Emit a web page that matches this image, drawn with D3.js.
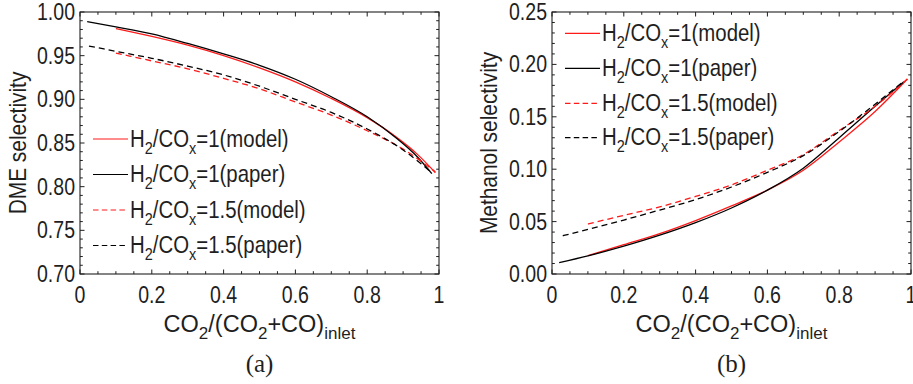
<!DOCTYPE html>
<html>
<head>
<meta charset="utf-8">
<script src="https://cdn.jsdelivr.net/npm/d3@7"></script>
<style>
  html, body { margin: 0; padding: 0; background: #fff; }
  svg { display: block; }
</style>
</head>
<body>
<svg id="chart" width="913" height="384"></svg>
<script>
// ---- data ----
const xTicks = [0, 0.2, 0.4, 0.6, 0.8, 1];
const dmeTicks = [0.70, 0.75, 0.80, 0.85, 0.90, 0.95, 1.00];
const meohTicks = [0.00, 0.05, 0.10, 0.15, 0.20, 0.25];

// DME selectivity vs CO2/(CO2+CO) at inlet
const dmeX_h1_model  = [0.10, 0.20, 0.30, 0.40, 0.50, 0.60, 0.70, 0.80, 0.88, 0.94, 0.99];
const dmeY_h1_model  = [0.981, 0.972, 0.962, 0.950, 0.936, 0.920, 0.901, 0.879, 0.857, 0.837, 0.816];
const dmeX_h1_paper  = [0.02, 0.10, 0.20, 0.30, 0.40, 0.50, 0.60, 0.70, 0.80, 0.88, 0.94, 0.98];
const dmeY_h1_paper  = [0.989, 0.983, 0.975, 0.964, 0.952, 0.939, 0.923, 0.903, 0.880, 0.856, 0.834, 0.815];
const dmeX_h15_model = [0.10, 0.20, 0.30, 0.40, 0.50, 0.60, 0.70, 0.80, 0.90, 0.99];
const dmeY_h15_model = [0.953, 0.944, 0.935, 0.924, 0.912, 0.897, 0.882, 0.864, 0.843, 0.817];
const dmeX_h15_paper = [0.025, 0.10, 0.20, 0.30, 0.40, 0.50, 0.60, 0.70, 0.80, 0.90, 0.98];
const dmeY_h15_paper = [0.961, 0.955, 0.947, 0.938, 0.928, 0.915, 0.900, 0.885, 0.866, 0.842, 0.816];

// Methanol selectivity vs CO2/(CO2+CO) at inlet
const meX_h1_model  = [0.10, 0.20, 0.30, 0.40, 0.50, 0.60, 0.70, 0.80, 0.90, 0.99];
const meY_h1_model  = [0.0175, 0.028, 0.0385, 0.051, 0.065, 0.080, 0.099, 0.126, 0.155, 0.186];
const meX_h1_paper  = [0.02, 0.10, 0.20, 0.30, 0.40, 0.50, 0.60, 0.70, 0.80, 0.90, 0.98];
const meY_h1_paper  = [0.0108, 0.0172, 0.0265, 0.037, 0.049, 0.063, 0.080, 0.101, 0.130, 0.160, 0.1835];
const meX_h15_model = [0.10, 0.20, 0.30, 0.40, 0.50, 0.60, 0.70, 0.80, 0.90, 0.99];
const meY_h15_model = [0.0477, 0.056, 0.064, 0.074, 0.085, 0.099, 0.114, 0.137, 0.160, 0.186];
const meX_h15_paper = [0.03, 0.10, 0.20, 0.30, 0.40, 0.50, 0.60, 0.70, 0.80, 0.90, 0.98];
const meY_h15_paper = [0.0365, 0.0425, 0.0515, 0.061, 0.071, 0.083, 0.097, 0.113, 0.136, 0.162, 0.184];

const seriesNames = [
  [{t: "H"}, {t: "2", sub: true}, {t: "/CO"}, {t: "x", sub: true}, {t: "=1(model)"}],
  [{t: "H"}, {t: "2", sub: true}, {t: "/CO"}, {t: "x", sub: true}, {t: "=1(paper)"}],
  [{t: "H"}, {t: "2", sub: true}, {t: "/CO"}, {t: "x", sub: true}, {t: "=1.5(model)"}],
  [{t: "H"}, {t: "2", sub: true}, {t: "/CO"}, {t: "x", sub: true}, {t: "=1.5(paper)"}]
];
const seriesStyles = [
  {color: "#ff1a1a", dash: null},
  {color: "#000000", dash: null},
  {color: "#ff1a1a", dash: "6,4"},
  {color: "#000000", dash: "6,4"}
];
const xLabelParts = [{t: "CO"}, {t: "2", sub: true}, {t: "/(CO"}, {t: "2", sub: true}, {t: "+CO)"}, {t: "inlet", sub: true}];

// ---- drawing ----
const svg = d3.select("#chart");
const FONT = "'Liberation Sans', Arial, sans-serif";
const TXT = "#1f1f1f";

function richText(parent, x, y, parts, size, subSize, subDy, sx, anchor) {
  const g = parent.append("g").attr("transform", `translate(${x},${y}) scale(${sx},1)`);
  const t = g.append("text")
    .attr("font-family", FONT).attr("font-size", size).attr("fill", TXT)
    .attr("text-anchor", anchor || "start");
  let shifted = false;
  parts.forEach(p => {
    const ts = t.append("tspan").text(p.t);
    if (p.sub) {
      ts.attr("font-size", subSize);
      if (!shifted) { ts.attr("dy", subDy); shifted = true; }
    } else {
      if (shifted) { ts.attr("dy", -subDy); shifted = false; }
    }
  });
  return g;
}

function drawPanel(opts) {
  const x = d3.scaleLinear().domain([0, 1]).range([opts.x0, opts.x1]);
  const y = d3.scaleLinear().domain(opts.yDomain).range([274, 12]);
  const g = svg.append("g");

  // minor + major ticks on all four sides, pointing inward
  const xMinor = d3.range(0, 1.0001, 0.05);
  const yMinor = d3.range(opts.yDomain[0], opts.yDomain[1] + 1e-6, 0.01);
  const isMajorX = v => Math.abs(v * 5 - Math.round(v * 5)) < 1e-6;
  const isMajorY = v => Math.abs(v * 20 - Math.round(v * 20)) < 1e-6;
  xMinor.forEach(v => {
    const L = isMajorX(v) ? 4.5 : 2.8;
    g.append("line").attr("x1", x(v)).attr("x2", x(v)).attr("y1", 274).attr("y2", 274 - L)
      .attr("stroke", TXT).attr("stroke-width", 1);
    g.append("line").attr("x1", x(v)).attr("x2", x(v)).attr("y1", 12).attr("y2", 12 + L)
      .attr("stroke", TXT).attr("stroke-width", 1);
  });
  yMinor.forEach(v => {
    const L = isMajorY(v) ? 4.5 : 2.8;
    g.append("line").attr("x1", opts.x0).attr("x2", opts.x0 + L).attr("y1", y(v)).attr("y2", y(v))
      .attr("stroke", TXT).attr("stroke-width", 1);
    g.append("line").attr("x1", opts.x1).attr("x2", opts.x1 - L).attr("y1", y(v)).attr("y2", y(v))
      .attr("stroke", TXT).attr("stroke-width", 1);
  });

  // frame
  g.append("rect").attr("x", opts.x0).attr("y", 12)
    .attr("width", opts.x1 - opts.x0).attr("height", 262)
    .attr("fill", "none").attr("stroke", TXT).attr("stroke-width", 1.1);

  // tick labels
  xTicks.forEach(v => {
    const lg = g.append("g").attr("transform", `translate(${x(v)},303) scale(0.85,1)`);
    lg.append("text").attr("text-anchor", "middle").attr("font-family", FONT)
      .attr("font-size", 23).attr("fill", TXT).text(d3.format("~g")(v));
  });
  opts.yTicks.forEach(v => {
    const lg = g.append("g").attr("transform", `translate(${opts.x0 - 5},${y(v) + 8}) scale(0.85,1)`);
    lg.append("text").attr("text-anchor", "end").attr("font-family", FONT)
      .attr("font-size", 23).attr("fill", TXT).text(d3.format(".2f")(v));
  });

  // axis titles
  const cx = (opts.x0 + opts.x1) / 2;
  richText(g, cx, 332, xLabelParts, 23.5, 17, 7, 1, "middle");
  const yl = g.append("g").attr("transform", `translate(${opts.yLabelX},143) rotate(-90) scale(0.87,1)`);
  yl.append("text").attr("text-anchor", "middle").attr("font-family", FONT)
    .attr("font-size", 24).attr("fill", TXT).text(opts.yLabel);

  // panel caption
  g.append("text").attr("x", cx).attr("y", 372).attr("text-anchor", "middle")
    .attr("font-family", "'Liberation Serif', 'Times New Roman', serif")
    .attr("font-size", 25).attr("fill", TXT).text(opts.caption);

  // data curves
  const line = d3.line().x(d => x(d[0])).y(d => y(d[1])).curve(d3.curveMonotoneX);
  opts.series.forEach((s, i) => {
    const pts = d3.zip(s[0], s[1]);
    const st = seriesStyles[i];
    g.append("path").datum(pts).attr("d", line)
      .attr("fill", "none").attr("stroke", st.color).attr("stroke-width", 1.3)
      .attr("stroke-dasharray", st.dash);
  });

  // legend
  opts.legendRows.forEach((ly, i) => {
    const st = seriesStyles[i];
    g.append("line").attr("x1", opts.legendX).attr("x2", opts.legendX + 35)
      .attr("y1", ly).attr("y2", ly)
      .attr("stroke", st.color).attr("stroke-width", 1.2)
      .attr("stroke-dasharray", st.dash ? "5.5,3.3" : null);
    richText(g, opts.legendX + 37, ly + 7.5, seriesNames[i], 24, 17, 7, 0.85, "start");
  });
}

drawPanel({
  x0: 80, x1: 439, yDomain: [0.70, 1.00], yTicks: dmeTicks,
  yLabel: "DME selectivity", yLabelX: 26, caption: "(a)",
  series: [[dmeX_h1_model, dmeY_h1_model], [dmeX_h1_paper, dmeY_h1_paper],
           [dmeX_h15_model, dmeY_h15_model], [dmeX_h15_paper, dmeY_h15_paper]],
  legendX: 93, legendRows: [139, 174.5, 210, 245.5]
});

drawPanel({
  x0: 552, x1: 911, yDomain: [0.00, 0.25], yTicks: meohTicks,
  yLabel: "Methanol selectivity", yLabelX: 497, caption: "(b)",
  series: [[meX_h1_model, meY_h1_model], [meX_h1_paper, meY_h1_paper],
           [meX_h15_model, meY_h15_model], [meX_h15_paper, meY_h15_paper]],
  legendX: 565, legendRows: [33.3, 68.3, 103.3, 137.7]
});
</script>
</body>
</html>
